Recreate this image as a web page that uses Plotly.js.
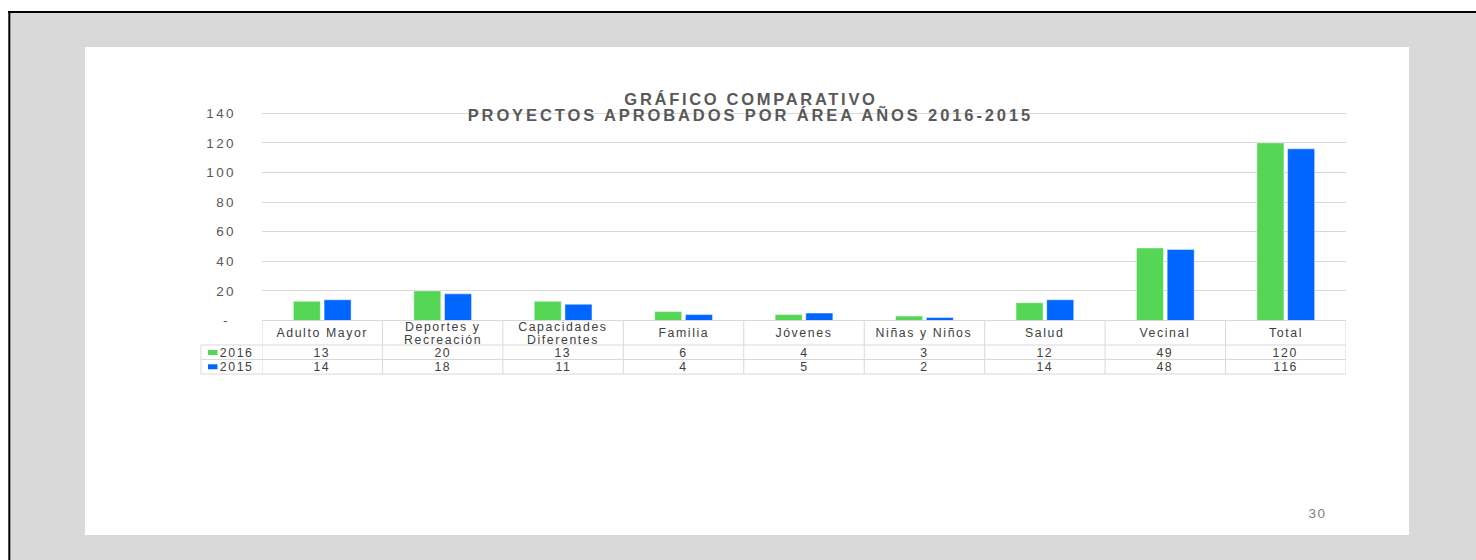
<!DOCTYPE html>
<html>
<head>
<meta charset="utf-8">
<script src="https://cdn.plot.ly/plotly-3.0.1.min.js"></script>
<style>
  html, body { margin: 0; padding: 0; background: #ffffff; }
  #chart { width: 1476px; height: 560px; }
  .gtitle { letter-spacing: 2.7px; }
  .annotation text { letter-spacing: 1.6px; }
  .annotation[data-index="0"] text { letter-spacing: 2.9px; }
  .ytick text { letter-spacing: 2.4px; }
</style>
</head>
<body>
<div id="chart"></div>
<script>
// ---- data ----
const categories = ['Adulto Mayor', 'Deportes y<br>Recreación', 'Capacidades<br>Diferentes', 'Familia', 'Jóvenes', 'Niñas y Niños', 'Salud', 'Vecinal', 'Total'];
const seriesNames = ['2016', '2015'];
const values2016 = [13, 20, 13, 6, 4, 3, 12, 49, 120];
const values2015 = [14, 18, 11, 4, 5, 2, 14, 48, 116];
const seriesColors = ['#55D655', '#0066FF'];
const yTickVals = [0, 20, 40, 60, 80, 100, 120, 140];
const yTickText = ['-\u00a0', '20', '40', '60', '80', '100', '120', '140'];
const titleLine1 = 'GRÁFICO COMPARATIVO';
const titleLine2 = 'PROYECTOS APROBADOS POR ÁREA AÑOS 2016-2015';
const pageNumber = '30';

// ---- layout helpers (pixel -> paper) ----
const W = 1476, H = 560;
const px = x => x / W;
const py = y => 1 - y / H;
const FONT = 'Liberation Sans, Arial, sans-serif';
const GRID = '#d9d9d9';

const allSeries = [values2016, values2015];
const traces = allSeries.map((vals, k) => ({
  type: 'bar',
  name: seriesNames[k],
  x: categories,
  y: vals,
  marker: { color: seriesColors[k], line: { color: 'rgba(255,255,255,0.45)', width: 1 } },
  hoverinfo: 'x+y'
}));

const shapes = [];
// page background
shapes.push({ type: 'rect', xref: 'paper', yref: 'paper', x0: px(9), x1: 1, y0: 0, y1: py(12), fillcolor: '#d9d9d9', line: { width: 0 }, layer: 'below' });
shapes.push({ type: 'line', xref: 'paper', yref: 'paper', x0: px(8), x1: 1, y0: py(12), y1: py(12), line: { color: '#000', width: 2 }, layer: 'below' });
shapes.push({ type: 'line', xref: 'paper', yref: 'paper', x0: px(9.3), x1: px(9.3), y0: py(11), y1: 0, line: { color: '#000', width: 2 }, layer: 'below' });
// white slide panel
shapes.push({ type: 'rect', xref: 'paper', yref: 'paper', x0: px(85), x1: px(1409), y0: py(535), y1: py(47), fillcolor: '#ffffff', line: { width: 0 }, layer: 'below' });

// data table grid
const rowTop = 320.5, rowHead = 345, row1 = 359.5, rowBot = 374;
const n = categories.length;
const tl = { color: GRID, width: 1 };
shapes.push({ type: 'line', xref: 'x', yref: 'paper', x0: -0.5, x1: n - 0.5, y0: py(rowTop), y1: py(rowTop), line: tl });
[rowHead, row1, rowBot].forEach(yy => {
  shapes.push({ type: 'line', xref: 'paper', yref: 'paper', x0: px(201), x1: px(262), y0: py(yy), y1: py(yy), line: tl });
  shapes.push({ type: 'line', xref: 'x', yref: 'paper', x0: -0.5, x1: n - 0.5, y0: py(yy), y1: py(yy), line: tl });
});
for (let i = 0; i <= n; i++) {
  shapes.push({ type: 'line', xref: 'x', yref: 'paper', x0: i - 0.5, x1: i - 0.5, y0: py(rowTop), y1: py(rowBot), line: tl });
}
shapes.push({ type: 'line', xref: 'paper', yref: 'paper', x0: px(201), x1: px(201), y0: py(rowHead), y1: py(rowBot), line: tl });
// legend keys
const rowCenters = [352.5, 366.8];
seriesNames.forEach((s, k) => {
  shapes.push({ type: 'rect', xref: 'paper', yref: 'paper', x0: px(208), x1: px(217.5), y0: py(rowCenters[k] + 2.5), y1: py(rowCenters[k] - 2.5), fillcolor: seriesColors[k], line: { width: 0 } });
});

const annotations = [];
// title second line (index 0)
annotations.push({ xref: 'paper', yref: 'paper', x: px(750), y: py(114.5), xanchor: 'center', yanchor: 'middle', showarrow: false, text: titleLine2, font: { family: FONT, size: 16.5, color: '#595959', weight: 'bold' } });
// category labels
const tf = { family: FONT, size: 12.3, color: '#404040' };
categories.forEach((c, i) => {
  const lines = c.split('<br>');
  const centers = lines.length === 1 ? [333] : [326.8, 339.8];
  lines.forEach((ln, j) => {
    annotations.push({ xref: 'x', yref: 'paper', x: i, y: py(centers[j]), xanchor: 'center', yanchor: 'middle', showarrow: false, text: ln, font: tf });
  });
});
// values
allSeries.forEach((vals, k) => {
  vals.forEach((v, i) => {
    annotations.push({ xref: 'x', yref: 'paper', x: i, y: py(rowCenters[k]), xanchor: 'center', yanchor: 'middle', showarrow: false, text: String(v), font: tf });
  });
  annotations.push({ xref: 'paper', yref: 'paper', x: px(221), y: py(rowCenters[k]), xanchor: 'left', yanchor: 'middle', showarrow: false, text: seriesNames[k], font: tf });
});
// page number
annotations.push({ xref: 'paper', yref: 'paper', x: px(1317), y: py(513.5), xanchor: 'center', yanchor: 'middle', showarrow: false, text: pageNumber, font: { family: FONT, size: 13.5, color: '#7f7f7f' } });

const layout = {
  width: W, height: H,
  margin: { l: 0, r: 0, t: 0, b: 0, pad: 0 },
  paper_bgcolor: '#ffffff',
  plot_bgcolor: 'rgba(0,0,0,0)',
  showlegend: false,
  barmode: 'group',
  bargap: 0.49,
  bargroupgap: 0.12,
  title: { text: titleLine1, x: px(751), xref: 'paper', xanchor: 'center', y: py(99.5), yref: 'paper', yanchor: 'middle', font: { family: FONT, size: 16.5, color: '#595959', weight: 'bold' } },
  xaxis: { domain: [px(262), px(1346)], range: [-0.5, n - 0.5], type: 'category', showticklabels: false, showgrid: false, zeroline: false, showline: false, ticks: '', fixedrange: true },
  yaxis: { domain: [py(320.5), py(111.8)], range: [0, 141], tickvals: yTickVals, ticktext: yTickText, showgrid: true, gridcolor: GRID, gridwidth: 1, zeroline: false, showline: false, ticks: '', ticklabelstandoff: 25, tickfont: { family: FONT, size: 13.5, color: '#595959' }, fixedrange: true },
  shapes: shapes,
  annotations: annotations
};

Plotly.newPlot('chart', traces, layout, { displayModeBar: false, staticPlot: true });
</script>
</body>
</html>
